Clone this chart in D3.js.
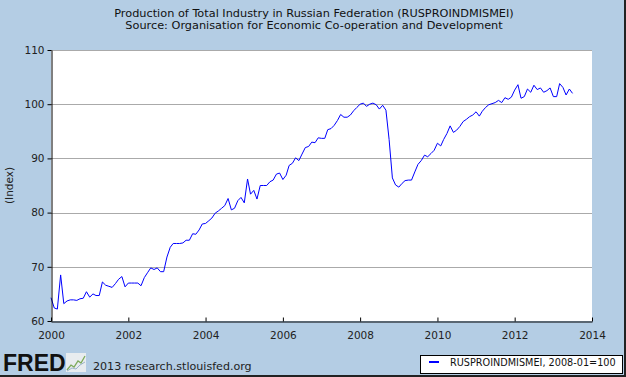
<!DOCTYPE html>
<html>
<head>
<meta charset="utf-8">
<script src="https://cdn.jsdelivr.net/npm/d3@7"></script>
<style>
  body { margin: 0; padding: 0; }
  svg { display: block; }
</style>
</head>
<body>
<script>
const chartWidth = 626;
const chartHeight = 377;
const plotLeft = 51;
const plotRight = 592;
const plotTop = 50;
const plotBottom = 321;
const frameColor = '#b4cde4';
const lineColor = '#0000ff';
const gridColor = '#aaaaaa';

const titleLines = [
  'Production of Total Industry in Russian Federation (RUSPROINDMISMEI)',
  'Source: Organisation for Economic Co-operation and Development'
];
const yAxisTitle = '(Index)';
const legendLabel = 'RUSPROINDMISMEI, 2008-01=100';
const footerText = '2013 research.stlouisfed.org';

const yTicks = [60, 70, 80, 90, 100, 110];
const xTickYears = [2000, 2002, 2004, 2006, 2008, 2010, 2012, 2014];

// monthly index values, one array per year (2013 ends in July)
const v2000 = [64.3, 62.4, 62.2, 68.5, 63.2, 63.7, 63.9, 63.9, 63.8, 64.1, 64.2, 65.4];
const v2001 = [64.4, 65.0, 64.7, 64.7, 67.2, 66.6, 66.4, 66.2, 66.9, 67.7, 68.2, 66.3];
const v2002 = [67.0, 67.0, 67.0, 67.0, 66.5, 68.0, 68.9, 69.8, 69.5, 69.8, 69.1, 69.1];
const v2003 = [71.8, 73.6, 74.3, 74.3, 74.3, 74.4, 74.9, 74.9, 76.1, 76.0, 76.8, 77.9];
const v2004 = [78.0, 78.5, 79.0, 79.9, 80.3, 80.8, 81.3, 82.6, 80.5, 80.8, 82.2, 82.8];
const v2005 = [81.8, 86.2, 83.4, 84.1, 82.5, 85.0, 85.0, 85.0, 85.7, 86.0, 87.1, 87.3];
const v2006 = [86.1, 86.9, 88.7, 89.1, 90.1, 89.6, 90.8, 92.0, 92.2, 93.0, 92.9, 93.8];
const v2007 = [93.7, 93.7, 95.3, 95.5, 96.1, 97.0, 98.1, 97.6, 97.6, 98.0, 98.8, 99.4];
const v2008 = [100.0, 100.2, 99.6, 100.0, 100.2, 99.9, 99.1, 99.8, 98.9, 93.5, 86.4, 85.1];
const v2009 = [84.7, 85.4, 85.9, 86.0, 86.0, 87.5, 88.9, 89.6, 90.6, 90.3, 90.9, 91.5];
const v2010 = [92.8, 92.3, 93.5, 94.6, 96.0, 94.8, 95.2, 95.9, 96.8, 97.2, 97.7, 98.0];
const v2011 = [98.6, 97.8, 98.7, 99.4, 99.9, 100.1, 100.3, 100.7, 100.3, 101.2, 100.9, 101.3];
const v2012 = [102.6, 103.6, 101.1, 101.4, 102.8, 102.2, 103.5, 102.7, 103.0, 102.2, 102.5, 103.0];
const v2013 = [101.4, 101.4, 103.8, 103.1, 101.7, 102.8, 102.0];

const yearlyValues = [v2000, v2001, v2002, v2003, v2004, v2005, v2006,
                      v2007, v2008, v2009, v2010, v2011, v2012, v2013];

const dataset = [];
yearlyValues.forEach((vals, i) => {
  vals.forEach((v, m) => {
    dataset.push({ date: new Date(2000 + i, m, 1), value: v });
  });
});

const svg = d3.select('body')
  .append('svg')
  .attr('width', chartWidth)
  .attr('height', chartHeight)
  .style('font-family', '"DejaVu Sans", Verdana, sans-serif');

// frame
svg.append('rect')
  .attr('width', chartWidth)
  .attr('height', chartHeight)
  .attr('fill', frameColor);

svg.append('line')
  .attr('x1', chartWidth - 1).attr('x2', chartWidth - 1)
  .attr('y1', 0).attr('y2', chartHeight)
  .attr('stroke', '#222').attr('stroke-width', 2);
svg.append('line')
  .attr('x1', 0).attr('x2', chartWidth)
  .attr('y1', chartHeight - 1).attr('y2', chartHeight - 1)
  .attr('stroke', '#222').attr('stroke-width', 2);

// titles
svg.selectAll('text.title')
  .data(titleLines)
  .enter()
  .append('text')
  .attr('class', 'title')
  .attr('x', 314)
  .attr('y', (d, i) => 17 + i * 11.5)
  .attr('text-anchor', 'middle')
  .attr('font-size', '11.3px')
  .attr('fill', '#111')
  .text(d => d);

const xScale = d3.scaleTime()
  .domain([new Date(2000, 0, 1), new Date(2014, 0, 1)])
  .range([plotLeft, plotRight]);

const yScale = d3.scaleLinear()
  .domain([60, 110])
  .range([plotBottom, plotTop]);

svg.append('rect')
  .attr('x', plotLeft)
  .attr('y', plotTop)
  .attr('width', plotRight - plotLeft)
  .attr('height', plotBottom - plotTop)
  .attr('fill', '#fff');

// gridlines
svg.append('g')
  .selectAll('line')
  .data(yTicks.filter(t => t > 60))
  .enter()
  .append('line')
  .attr('x1', plotLeft)
  .attr('x2', plotRight)
  .attr('y1', d => Math.round(yScale(d)) + 0.5)
  .attr('y2', d => Math.round(yScale(d)) + 0.5)
  .attr('stroke', gridColor)
  .attr('stroke-width', 1);

const line = d3.line()
  .x(d => xScale(d.date))
  .y(d => yScale(d.value));

svg.append('path')
  .datum(dataset)
  .attr('d', line)
  .attr('fill', 'none')
  .attr('stroke', lineColor)
  .attr('stroke-width', 1);

const yAxis = d3.axisLeft(yScale)
  .tickValues(yTicks)
  .tickFormat(d3.format('d'))
  .tickSizeInner(4)
  .tickSizeOuter(0)
  .tickPadding(3);

const xAxis = d3.axisBottom(xScale)
  .tickValues(xTickYears.map(y => new Date(y, 0, 1)))
  .tickFormat(d3.timeFormat('%Y'))
  .tickSizeInner(-4)
  .tickSizeOuter(0)
  .tickPadding(10);

const gy = svg.append('g')
  .attr('transform', 'translate(' + (plotLeft + 0.5) + ',0)')
  .call(yAxis);

const gx = svg.append('g')
  .attr('transform', 'translate(0,' + (plotBottom + 0.5) + ')')
  .call(xAxis);

[gx, gy].forEach(g => {
  g.select('.domain').attr('stroke', '#000');
  g.selectAll('.tick line').attr('stroke', '#000');
  g.selectAll('.tick text')
    .attr('font-size', '10.5px')
    .attr('font-family', '"DejaVu Sans", Verdana, sans-serif')
    .attr('fill', '#222');
});

svg.append('text')
  .attr('transform', 'translate(13,' + ((plotTop + plotBottom) / 2) + ') rotate(-90)')
  .attr('text-anchor', 'middle')
  .attr('font-size', '10.5px')
  .attr('fill', '#222')
  .text(yAxisTitle);

// FRED logo and footer
svg.append('text')
  .attr('x', 3)
  .attr('y', 371)
  .attr('font-family', '"Liberation Sans", Arial, sans-serif')
  .attr('font-weight', 'bold')
  .attr('font-size', '23px')
  .attr('fill', '#111')
  .text('FRED');

const icon = svg.append('g').attr('transform', 'translate(66,353)');
icon.append('rect')
  .attr('width', 20).attr('height', 19)
  .attr('fill', '#e8ecef');
icon.append('polyline')
  .attr('points', '1,17 5,12 8,14 12,8 15,10 19,3')
  .attr('fill', 'none')
  .attr('stroke', '#7caa5a')
  .attr('stroke-width', 1.3);
icon.append('polyline')
  .attr('points', '1,18 6,15 10,16 14,12 19,9')
  .attr('fill', 'none')
  .attr('stroke', '#9bb3c9')
  .attr('stroke-width', 1);

svg.append('text')
  .attr('x', 93)
  .attr('y', 370)
  .attr('font-size', '11.1px')
  .attr('fill', '#222')
  .text(footerText);

// legend
const legend = svg.append('g');
legend.append('rect')
  .attr('x', 420.5)
  .attr('y', 355.5)
  .attr('width', 202)
  .attr('height', 18)
  .attr('fill', '#fff')
  .attr('stroke', '#000');
legend.append('line')
  .attr('x1', 429).attr('x2', 439)
  .attr('y1', 362).attr('y2', 362)
  .attr('stroke', lineColor)
  .attr('stroke-width', 2);
legend.append('text')
  .attr('x', 450)
  .attr('y', 366)
  .attr('font-size', '9.7px')
  .attr('fill', '#111')
  .text(legendLabel);
</script>
</body>
</html>
